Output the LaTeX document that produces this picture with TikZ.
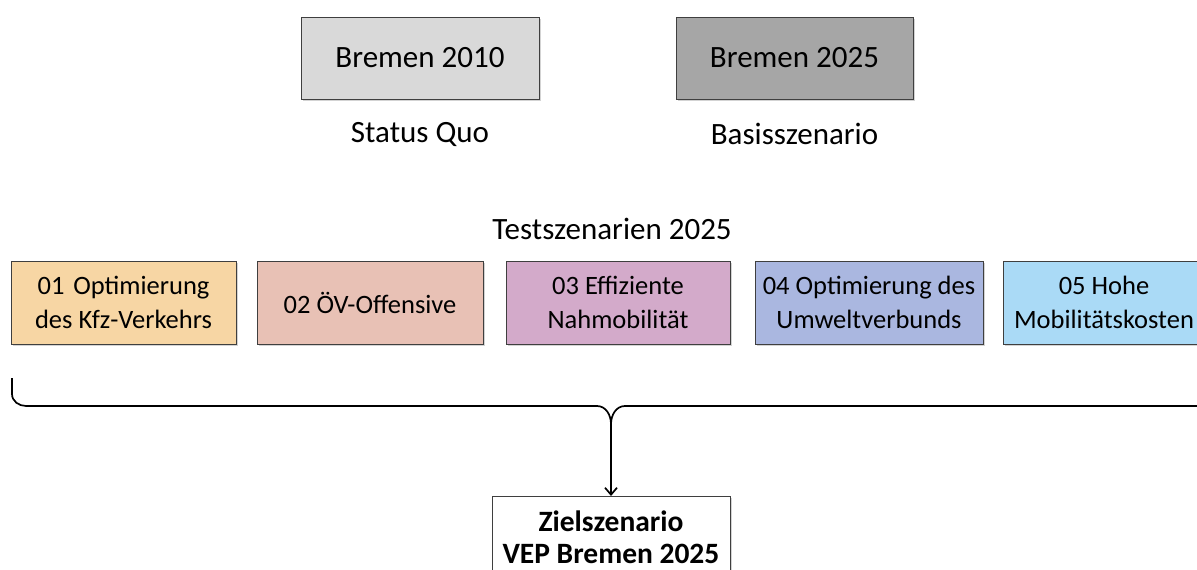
\documentclass[tikz,border=0pt]{standalone}
\usepackage{fontspec}
\setmainfont{Carlito}
\usetikzlibrary{shadows,arrows.meta}
\definecolor{c01}{HTML}{F7D6A4}
\definecolor{c02}{HTML}{E8C1B5}
\definecolor{c03}{HTML}{D3AACA}
\definecolor{c04}{HTML}{AAB7E0}
\definecolor{c05}{HTML}{AADAF6}
\definecolor{gl}{HTML}{D9D9D9}
\definecolor{gd}{HTML}{A6A6A6}
\definecolor{bd}{HTML}{3F3F3F}
\tikzset{
  box/.style={draw=bd, line width=0.9pt, rectangle, inner sep=0pt, outer sep=0pt,
    align=center, minimum height=83pt,
    drop shadow={shadow xshift=1.5pt, shadow yshift=-1.5pt, opacity=0.35}},
  big/.style={font=\fontsize{31}{36}\selectfont},
  mid/.style={font=\fontsize{26.5}{34}\selectfont},
  lbl/.style={inner sep=0pt, big},
}
\begin{document}
\begin{tikzpicture}[x=1pt,y=1pt]
\useasboundingbox (0,0) rectangle (1197,-570);
\node[box, big, fill=gl, minimum width=238pt, minimum height=82pt] (b10) at (420,-58) {Bremen 2010};
\node[box, big, fill=gd, minimum width=237pt, minimum height=82pt] (b25) at (794.5,-58) {Bremen 2025};
\node[lbl] (sq) at (420,-134) {Status Quo};
\node[lbl] (bs) at (794.5,-134) {Basisszenario};
\node[lbl] (ts) at (612,-229) {Testszenarien 2025};

\node[box, mid, fill=c01, minimum width=225pt] (t1) at (123.5,-302.5) {01\,\,Optimierung\\des Kfz-Verkehrs};
\node[box, mid, fill=c02, minimum width=226pt] (t2) at (370,-302.5) {02 ÖV-Offensive};
\node[box, mid, fill=c03, minimum width=224pt] (t3) at (618,-302.5) {03 Effiziente\\Nahmobilität};
\node[box, mid, fill=c04, minimum width=228pt] (t4) at (869,-302.5) {04 Optimierung des\\Umweltverbunds};
\node[box, mid, fill=c05, minimum width=202pt] (t5) at (1104,-302.5) {05 Hohe\\Mobilitätskosten};

\node[box, fill=white, minimum width=238pt, minimum height=82pt,
  font=\fontsize{29.5}{32}\selectfont\bfseries] (z) at (611,-537) {Zielszenario\\VEP Bremen 2025};

\coordinate (tip) at (611,-424);
\draw[line width=1.7pt, line join=round]
  (12,-378) -- (12,-394) to[out=-90,in=180] (26,-406) -- (597,-406)
  to[out=0,in=90] (tip)
  to[out=90,in=180] (625,-406) -- (1200,-406)
  to[out=0,in=-90] (1214,-394) -- (1214,-378);
\draw[line width=1.7pt, -{Straight Barb[length=7pt,width=12pt]}] (tip) -- (z.north);
\end{tikzpicture}
\end{document}
